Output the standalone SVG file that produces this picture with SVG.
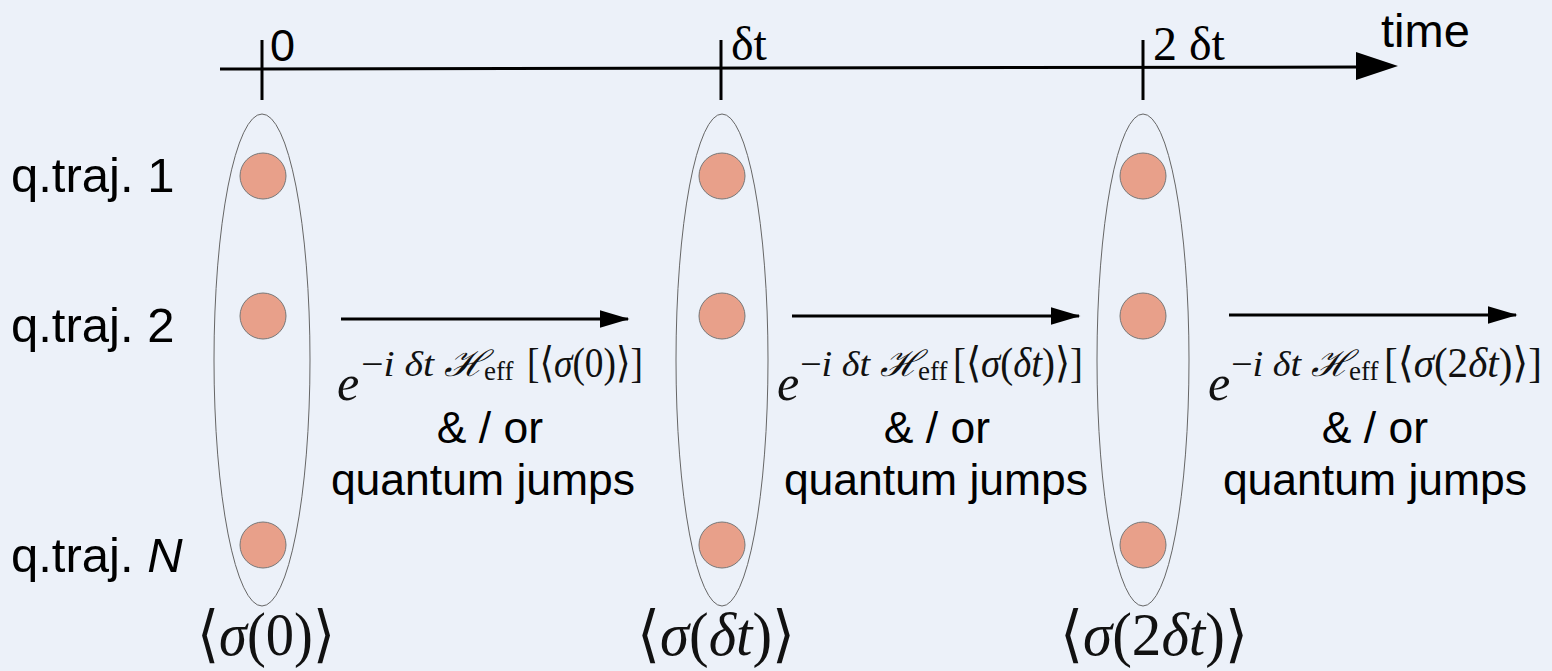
<svg xmlns="http://www.w3.org/2000/svg" width="1552" height="671" viewBox="0 0 1552 671">
<defs>
<style>
.sans{font-family:"Liberation Sans",Arial,sans-serif;fill:#000}
.serif{font-family:"Liberation Serif","DejaVu Serif",serif;fill:#000}
.math{font-family:"Liberation Serif","DejaVu Serif",serif;fill:#111}
.it{font-style:italic}
.ell{fill:none;stroke:#666;stroke-width:1}
.dot{fill:#E8A08A;stroke:#777;stroke-width:1}
.ax{stroke:#000;stroke-width:3;fill:none}
.arr{stroke:#000;stroke-width:3;fill:none}
.lbl{font-size:49px}
.step{font-size:44.5px}
.ee{font-size:50px;font-style:italic}
.sup{font-size:36px}
.sub{font-size:27px}
.brk{font-size:42px}
.avg{font-size:62px}
</style>
<marker id="ah" markerWidth="10" markerHeight="6" refX="9.5" refY="3" orient="auto" markerUnits="strokeWidth">
<path d="M0,0 L10,3 L0,6 Z" fill="#000"/>
</marker>
</defs>
<rect width="1552" height="671" fill="#ECF1F9"/>

<g id="time-axis">
<line class="ax" x1="220" y1="69" x2="1360" y2="67"/>
<path d="M1356,52 L1398,66 L1356,80 Z" fill="#000"/>
<line class="ax" x1="262" y1="40" x2="262" y2="100"/>
<line class="ax" x1="721" y1="40" x2="721" y2="100"/>
<line class="ax" x1="1143" y1="40" x2="1143" y2="100"/>
<text class="sans" x="270" y="61" font-size="45">0</text>
<text class="serif" x="731" y="60" font-size="48">δt</text>
<text class="serif" x="1153" y="60" font-size="48">2 δt</text>
<text class="sans" x="1381" y="47" font-size="47">time</text>
</g>

<g id="row-labels">
<text class="sans lbl" x="11" y="192">q.traj. 1</text>
<text class="sans lbl" x="11" y="342">q.traj. 2</text>
<text class="sans lbl" x="11" y="572">q.traj. <tspan font-style="italic">N</tspan></text>
</g>

<g id="step-0">
<ellipse class="ell" cx="262" cy="360" rx="48" ry="246"/>
<circle class="dot" cx="263" cy="176" r="23"/>
<circle class="dot" cx="263" cy="316" r="23"/>
<circle class="dot" cx="263" cy="545" r="23"/>
<text class="math avg" x="197" y="655" textLength="138" lengthAdjust="spacingAndGlyphs">⟨<tspan class="it">σ</tspan>(0)⟩</text>
</g>

<g id="step-1">
<ellipse class="ell" cx="722" cy="360" rx="46" ry="246"/>
<circle class="dot" cx="722" cy="176" r="23"/>
<circle class="dot" cx="722" cy="316" r="23"/>
<circle class="dot" cx="722" cy="545" r="23"/>
<text class="math avg" x="637" y="655" textLength="158" lengthAdjust="spacingAndGlyphs">⟨<tspan class="it">σ</tspan>(<tspan class="it">δt</tspan>)⟩</text>
</g>

<g id="step-2">
<ellipse class="ell" cx="1143" cy="360" rx="46" ry="246"/>
<circle class="dot" cx="1143" cy="176" r="23"/>
<circle class="dot" cx="1143" cy="316" r="23"/>
<circle class="dot" cx="1143" cy="545" r="23"/>
<text class="math avg" x="1060" y="655" textLength="188" lengthAdjust="spacingAndGlyphs">⟨<tspan class="it">σ</tspan>(2<tspan class="it">δt</tspan>)⟩</text>
</g>

<g id="connectors">
<line class="arr" x1="341" y1="319" x2="628" y2="319" marker-end="url(#ah)"/>
<line class="arr" x1="792" y1="316" x2="1079" y2="316" marker-end="url(#ah)"/>
<line class="arr" x1="1229" y1="315" x2="1516" y2="315" marker-end="url(#ah)"/>
</g>

<g id="label-0">
<text class="math"><tspan class="ee" x="337" y="400">e</tspan><tspan class="sup" x="361" y="376" textLength="125" lengthAdjust="spacingAndGlyphs">−<tspan class="it">i δt ℋ</tspan></tspan><tspan class="sub" x="484" y="380">eff</tspan><tspan class="brk" x="527" y="377" textLength="116" lengthAdjust="spacingAndGlyphs">[⟨<tspan class="it">σ</tspan>(0)⟩]</tspan></text>
<text class="sans step" x="490" y="443" text-anchor="middle">&amp; / or</text>
<text class="sans step" x="483" y="495" text-anchor="middle">quantum jumps</text>
</g>

<g id="label-1">
<text class="math"><tspan class="ee" x="777" y="400">e</tspan><tspan class="sup" x="800" y="376" textLength="120" lengthAdjust="spacingAndGlyphs">−<tspan class="it">i δt ℋ</tspan></tspan><tspan class="sub" x="918" y="380">eff</tspan><tspan class="brk" x="953" y="377" textLength="130" lengthAdjust="spacingAndGlyphs">[⟨<tspan class="it">σ</tspan>(<tspan class="it">δt</tspan>)⟩]</tspan></text>
<text class="sans step" x="937" y="443" text-anchor="middle">&amp; / or</text>
<text class="sans step" x="936" y="495" text-anchor="middle">quantum jumps</text>
</g>

<g id="label-2">
<text class="math"><tspan class="ee" x="1208" y="400">e</tspan><tspan class="sup" x="1231" y="376" textLength="120" lengthAdjust="spacingAndGlyphs">−<tspan class="it">i δt ℋ</tspan></tspan><tspan class="sub" x="1349" y="380">eff</tspan><tspan class="brk" x="1384" y="377" textLength="158" lengthAdjust="spacingAndGlyphs">[⟨<tspan class="it">σ</tspan>(2<tspan class="it">δt</tspan>)⟩]</tspan></text>
<text class="sans step" x="1375" y="443" text-anchor="middle">&amp; / or</text>
<text class="sans step" x="1375" y="495" text-anchor="middle">quantum jumps</text>
</g>
</svg>
